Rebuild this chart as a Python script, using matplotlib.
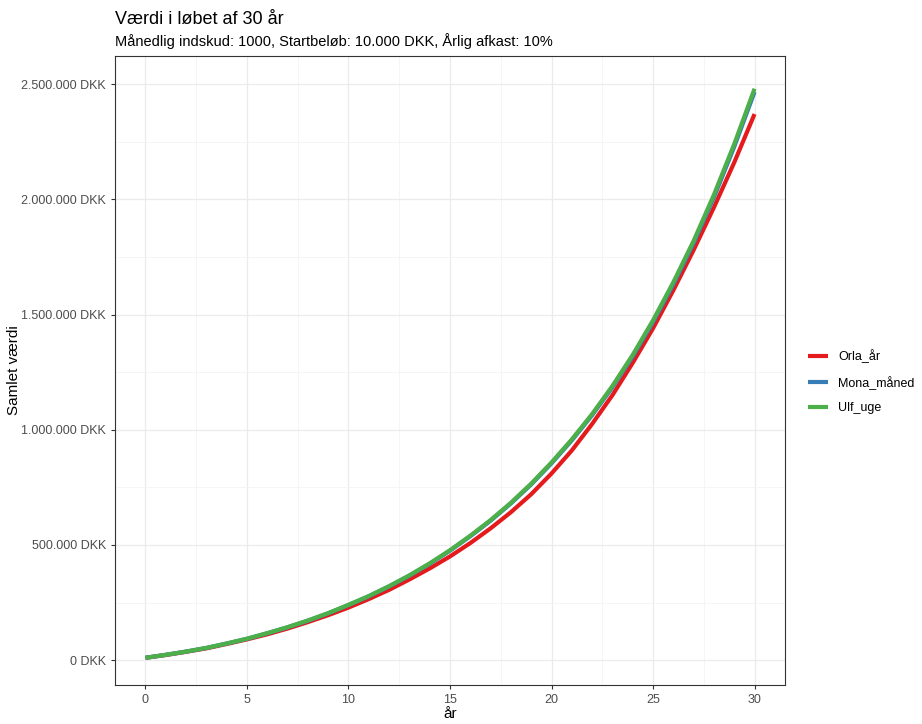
import matplotlib
matplotlib.use("Agg")
import matplotlib.pyplot as plt
from matplotlib.ticker import FuncFormatter, MultipleLocator

plt.rcParams['font.family'] = ['Liberation Sans', 'DejaVu Sans']

years = list(range(31))
orla = [10000,22000,36000,51000,70000,90000,112000,137000,165000,195000,228000,265000,305000,350000,398000,450000,508000,572000,642000,720000,810000,910000,1025000,1150000,1290000,1440000,1605000,1780000,1965000,2160000,2370000]
ulf = [10000,23000,37000,53000,72000,93000,117000,143000,172000,204000,240000,278000,321000,368000,420000,477000,540000,608000,683000,766000,858000,958000,1068000,1190000,1325000,1475000,1640000,1820000,2020000,2240000,2480000]
mona = [10000,23000,37000,53000,72000,92500,116500,142500,171000,203000,239000,277000,320000,366500,418000,475000,537500,605000,680000,762500,854000,953500,1063000,1184000,1318000,1467000,1631000,1810000,2009000,2228000,2466000]
names = ["Orla_år", "Mona_måned", "Ulf_uge"]
colors = ["#E41A1C", "#377EB8", "#4DAF4A"]

fig = plt.figure(figsize=(9.22, 7.24), dpi=100)
ax = fig.add_axes([115/922, 1-685/724, 670/922, 629/724])
for s, n, c in zip([orla, mona, ulf], names, colors):
    ax.plot(years, s, color=c, lw=3, label=n, solid_capstyle="butt")
ax.set_xlim(-1.5, 31.5)
ax.set_ylim(-108000, 2622000)
ax.xaxis.set_major_locator(MultipleLocator(5))
ax.xaxis.set_minor_locator(MultipleLocator(2.5))
ax.yaxis.set_major_locator(MultipleLocator(500000))
ax.yaxis.set_minor_locator(MultipleLocator(250000))
ax.yaxis.set_major_formatter(FuncFormatter(lambda v, p: f"{int(v):,}".replace(",", ".") + " DKK"))
ax.grid(True, which="major", color="#EBEBEB", lw=0.9)
ax.grid(True, which="minor", color="#F4F4F4", lw=0.6)
ax.set_axisbelow(True)
for sp in ax.spines.values():
    sp.set_color("#333333"); sp.set_linewidth(0.8)
ax.tick_params(which="major", length=3, color="#333333", labelsize=9, labelcolor="#4D4D4D")
ax.tick_params(which="minor", length=0)
ax.set_xlabel("år", fontsize=11, labelpad=1)
fig.text(14/922, 1-370/724, "Samlet værdi", fontsize=11, rotation=90, va="center", ha="center")
fig.text(115/922, 1-19/724, "Værdi i løbet af 30 år", fontsize=13, va="center")
fig.text(115/922, 1-41/724, "Månedlig indskud: 1000, Startbeløb: 10.000 DKK, Årlig afkast: 10%", fontsize=10.5, va="center")
leg = fig.legend(loc="center left", bbox_to_anchor=(797/922, 1-382/724), frameon=False, fontsize=9, handlelength=1.6, labelspacing=1.0)
for l in leg.get_lines():
    l.set_linewidth(3)
fig.savefig("out.png", dpi=100)
